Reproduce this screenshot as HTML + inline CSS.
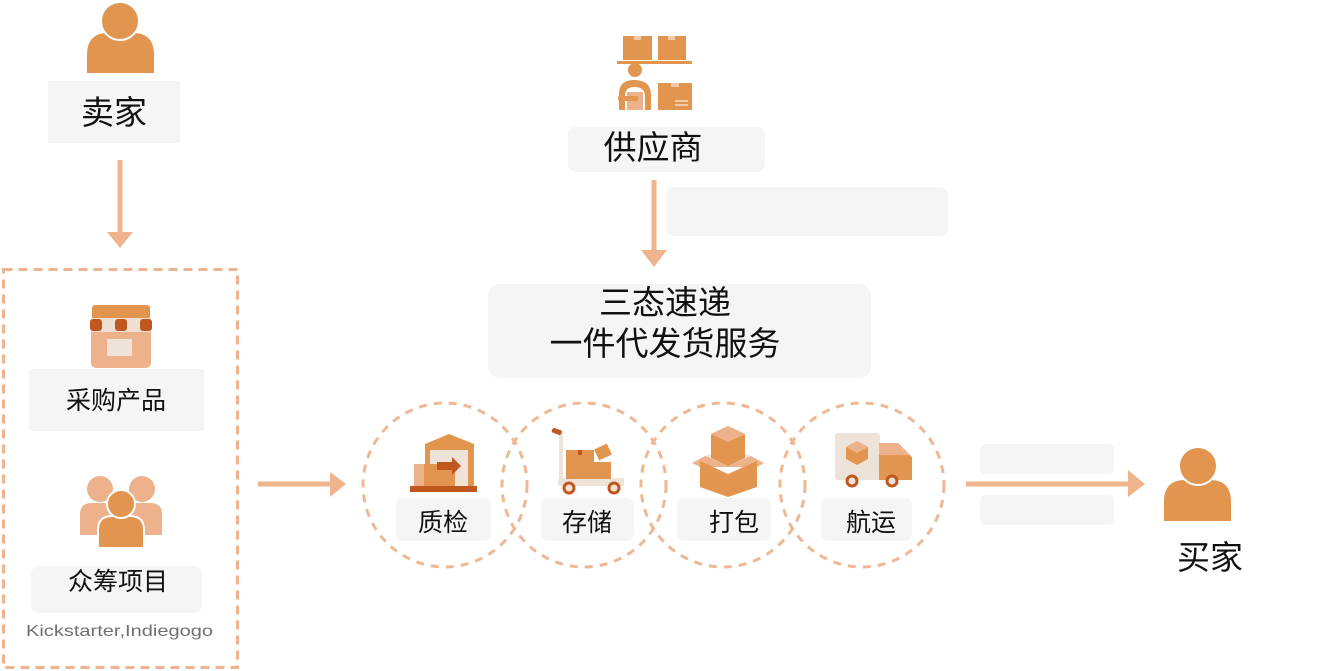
<!DOCTYPE html>
<html>
<head>
<meta charset="utf-8">
<style>
html,body{margin:0;padding:0;background:#fff;}
svg{display:block;}
text{font-family:"Liberation Sans","Noto Sans CJK SC",sans-serif;fill:#111;}
</style>
</head>
<body>
<svg width="1319" height="671" viewBox="0 0 1319 671" xmlns="http://www.w3.org/2000/svg">
  <!-- ===== Seller ===== -->
  <path d="M87 73 L87 55 Q87 33 108 33 L133 33 Q154 33 154 55 L154 73 Z" fill="#e2954f"/>
  <circle cx="120" cy="21" r="19" fill="#e2954f" stroke="#fff" stroke-width="2"/>
  <rect x="48" y="81" width="132" height="62" fill="#f5f5f5"/>
  <text x="114" y="124" font-size="33" text-anchor="middle">卖家</text>
  <!-- arrow down -->
  <line x1="120" y1="160" x2="120" y2="234" stroke="#efb48e" stroke-width="5"/>
  <polygon points="107,232 133,232 120,248" fill="#efb48e"/>

  <!-- dashed box -->
  <rect x="3.5" y="269.5" width="234" height="398" fill="none" stroke="#efb48e" stroke-width="3" stroke-dasharray="9 6"/>

  <!-- store icon -->
  <rect x="91" y="318" width="60" height="50" rx="5" fill="#edb28c"/>
  <rect x="92" y="305" width="58" height="15" rx="3" fill="#e2954f"/>
  <rect x="91" y="318" width="60" height="14" fill="#ede0d2"/>
  <circle cx="96" cy="325" r="6" fill="#c0571e"/>
  <circle cx="121" cy="325" r="6" fill="#c0571e"/>
  <circle cx="146" cy="325" r="6" fill="#c0571e"/>
  <rect x="90" y="319" width="12" height="12" rx="3" fill="#c0571e"/>
  <rect x="115" y="319" width="12" height="12" rx="3" fill="#c0571e"/>
  <rect x="140" y="319" width="12" height="12" rx="3" fill="#c0571e"/>
  <rect x="107" y="339" width="25" height="17" fill="#ede3d8"/>
  <rect x="29" y="369" width="175" height="62" fill="#f5f5f5"/>
  <text x="116" y="409" font-size="25" text-anchor="middle">采购产品</text>

  <!-- crowd icon -->
  <path d="M80 535 L80 514 Q80 503 92 503 L104 503 Q112 503 112 514 L112 535 Z" fill="#edb28c"/>
  <path d="M128 535 L128 514 Q128 503 138 503 L150 503 Q162 503 162 514 L162 535 Z" fill="#edb28c"/>
  <circle cx="100" cy="489" r="13" fill="#edb28c"/>
  <circle cx="142" cy="489" r="13" fill="#edb28c"/>
  <path d="M98 548 L98 530 Q98 516 112 516 L130 516 Q144 516 144 530 L144 548 Z" fill="#e2954f" stroke="#fff" stroke-width="2"/>
  <circle cx="121" cy="504" r="14" fill="#e2954f" stroke="#fff" stroke-width="2"/>
  <rect x="31" y="566" width="171" height="47" rx="8" fill="#f5f5f5"/>
  <text x="118" y="590" font-size="25" text-anchor="middle">众筹项目</text>
  <text x="26" y="636" font-size="16" textLength="187" lengthAdjust="spacingAndGlyphs" style="fill:#6f6f6f">Kickstarter,Indiegogo</text>

  <!-- arrow right from left box -->
  <line x1="258" y1="484" x2="332" y2="484" stroke="#efb48e" stroke-width="5"/>
  <polygon points="330,472 330,497 346,484" fill="#efb48e"/>

  <!-- ===== Supplier ===== -->
  <rect x="623" y="36" width="29" height="24" fill="#e2954f"/>
  <rect x="658" y="36" width="28" height="24" fill="#e2954f"/>
  <rect x="634" y="36" width="7" height="4" fill="#f3c9a8"/>
  <rect x="668" y="36" width="7" height="4" fill="#f3c9a8"/>
  <rect x="617" y="61" width="75" height="3" fill="#e2954f"/>
  <circle cx="635" cy="70" r="7" fill="#e2954f"/>
  <path d="M619 110 L619 94 Q619 80 634 80 Q651 80 651 95 L651 110 L645 110 L645 96 Q645 87 634 87 Q625 87 625 96 L625 110 Z" fill="#e2954f"/>
  <rect x="627" y="92" width="16" height="18" fill="#edb28c"/>
  <rect x="618" y="96" width="20" height="5" rx="2" fill="#e2954f"/>
  <rect x="658" y="83" width="34" height="27" fill="#e2954f"/>
  <rect x="671" y="83" width="8" height="4" fill="#f3c9a8"/>
  <rect x="675" y="100" width="13" height="2" fill="#f3c9a8"/>
  <rect x="675" y="104" width="13" height="2" fill="#f3c9a8"/>
  <rect x="568" y="127" width="197" height="45" rx="8" fill="#f5f5f5"/>
  <text x="653" y="159" font-size="33" text-anchor="middle">供应商</text>
  <rect x="666" y="187" width="282" height="49" rx="8" fill="#f5f5f5"/>
  <line x1="654" y1="180" x2="654" y2="252" stroke="#efb48e" stroke-width="5"/>
  <polygon points="641,250 667,250 654,267" fill="#efb48e"/>

  <!-- center box -->
  <rect x="488" y="284" width="383" height="94" rx="12" fill="#f5f5f5"/>
  <text x="665" y="314" font-size="33" text-anchor="middle">三态速递</text>
  <text x="665" y="355" font-size="33" text-anchor="middle">一件代发货服务</text>

  <!-- circles -->
  <g fill="none" stroke="#efb895" stroke-width="3" stroke-dasharray="8 7">
    <circle cx="445" cy="485" r="82"/>
    <circle cx="584" cy="485" r="82"/>
    <circle cx="723" cy="485" r="82"/>
    <circle cx="862" cy="485" r="82"/>
  </g>

  <!-- warehouse icon -->
  <polygon points="425,444 449,434 474,444 474,488 425,488" fill="#e2954f"/>
  <rect x="430" y="450" width="38" height="37" fill="#ede3d8"/>
  <rect x="414" y="464" width="41" height="24" fill="#edb28c"/>
  <rect x="424" y="464" width="31" height="24" fill="#e2954f"/>
  <polygon points="437,462 452,462 452,457 461,466 452,475 452,470 437,470" fill="#c0571e"/>
  <rect x="410" y="486" width="67" height="6" fill="#c0571e"/>
  <rect x="396" y="498" width="95" height="43" rx="7" fill="#f5f5f5"/>
  <text x="443" y="531" font-size="25" text-anchor="middle">质检</text>

  <!-- trolley icon -->
  <rect x="559" y="433" width="4" height="53" fill="#ede3d8"/>
  <rect x="552" y="429" width="10" height="5" rx="2" fill="#c0571e" transform="rotate(20 557 431)"/>
  <rect x="558" y="478" width="66" height="8" rx="2" fill="#ede3d8"/>
  <rect x="566" y="450" width="28" height="29" fill="#e2954f"/>
  <rect x="578" y="450" width="4" height="5" fill="#c0571e"/>
  <rect x="594" y="462" width="17" height="17" fill="#e2954f"/>
  <rect x="596" y="446" width="14" height="12" fill="#e2954f" transform="rotate(-25 603 452)"/>
  <circle cx="569" cy="488" r="5" fill="#ede3d8" stroke="#c0571e" stroke-width="3"/>
  <circle cx="614" cy="488" r="5" fill="#ede3d8" stroke="#c0571e" stroke-width="3"/>
  <rect x="541" y="498" width="93" height="43" rx="7" fill="#f5f5f5"/>
  <text x="587" y="531" font-size="25" text-anchor="middle">存储</text>

  <!-- boxes icon -->
  <polygon points="692,463 705,456 751,456 764,463 757,467 700,467" fill="#edb28c"/>
  <polygon points="700,461 728,474 757,461 757,487 728,497 700,487" fill="#e2954f"/>
  <polygon points="705,456 728,466 751,456 728,448" fill="#ede3d8"/>
  <polygon points="711,434 728,426 745,434 745,458 728,466 711,458" fill="#e2954f"/>
  <polygon points="711,434 728,426 745,434 728,442" fill="#edb28c"/>
  <rect x="677" y="498" width="94" height="43" rx="7" fill="#f5f5f5"/>
  <text x="734" y="531" font-size="25" text-anchor="middle">打包</text>

  <!-- truck icon -->
  <rect x="835" y="433" width="45" height="47" rx="3" fill="#ede3d8"/>
  <polygon points="879,443 898,443 912,457 912,480 879,480" fill="#e2954f"/>
  <polygon points="879,443 898,443 910,455 879,455" fill="#edb28c"/>
  <polygon points="857,441 868,447 868,459 857,465 846,459 846,447" fill="#e2954f"/>
  <polygon points="857,441 868,447 857,453 846,447" fill="#edb28c"/>
  <circle cx="852" cy="481" r="5" fill="#ede3d8" stroke="#c0571e" stroke-width="3"/>
  <circle cx="892" cy="481" r="5" fill="#ede3d8" stroke="#c0571e" stroke-width="3"/>
  <rect x="821" y="498" width="91" height="43" rx="7" fill="#f5f5f5"/>
  <text x="871" y="531" font-size="25" text-anchor="middle">航运</text>

  <!-- right arrow to buyer -->
  <rect x="980" y="444" width="134" height="30" rx="5" fill="#f5f5f5"/>
  <rect x="980" y="495" width="134" height="30" rx="5" fill="#f5f5f5"/>
  <line x1="966" y1="484" x2="1130" y2="484" stroke="#efb48e" stroke-width="5"/>
  <polygon points="1128,470 1128,497 1145,484" fill="#efb48e"/>

  <!-- buyer -->
  <path d="M1164 521 L1164 502 Q1164 480 1185 480 L1210 480 Q1231 480 1231 502 L1231 521 Z" fill="#e2954f"/>
  <circle cx="1198" cy="466" r="19" fill="#e2954f" stroke="#fff" stroke-width="2"/>
  <text x="1210" y="569" font-size="33" text-anchor="middle">买家</text>
</svg>
</body>
</html>
